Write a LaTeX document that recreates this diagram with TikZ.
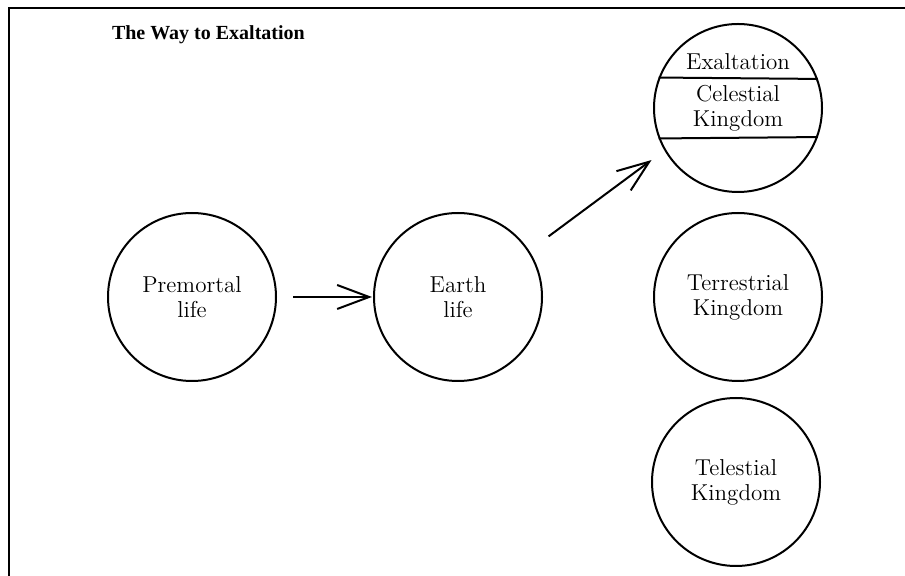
\documentclass[tikz,border=0pt]{standalone}
\usepackage{fontspec}
\newfontfamily\titlefont{Liberation Serif}
\usetikzlibrary{arrows.meta}

\begin{document}
\begin{tikzpicture}[x=0.5pt, y=-0.5pt, line width=1pt]
  \tikzset{
    stage_node/.style={circle, draw, line width=1pt, minimum size=84pt, inner sep=0pt,
      align=center, font=\fontsize{11.5}{12.5}\selectfont},
    way_arrow/.style={-{Straight Barb[length=16pt, width=12pt, line width=1pt]}, line width=1pt}
  }

  % Marco (solo arriba y a la izquierda)
  \useasboundingbox (0,0) rectangle (905,576);
  \draw (905,8) -- (9,8) -- (9,576);

  % Titulo
  \node[anchor=base west, inner sep=0pt, font=\titlefont\fontsize{10}{12}\selectfont\bfseries] (title) at (111,40) {The Way to Exaltation};

  % Etapas
  \node[stage_node] (premortal) at (192,297) {Premortal\\life};
  \node[stage_node] (earth) at (458,297) {Earth\\life};

  % Reinos
  \node[stage_node] (celestial) at (738,108) {Celestial\\Kingdom};
  \node[stage_node] (terrestrial) at (738,297) {Terrestrial\\Kingdom};
  \node[stage_node] (telestial) at (736,482) {Telestial\\Kingdom};

  % Franja de la exaltacion
  \draw (celestial.159.1) -- (celestial.20.9);
  \draw (celestial.-159.1) -- (celestial.-20.9);
  \node[font=\fontsize{11.5}{12.5}\selectfont, inner sep=0pt] (exaltation) at (738,62) {Exaltation};

  % Flechas
  \draw[way_arrow, shorten <=8pt, shorten >=0.5pt] (premortal.east) -- (earth.west);
  \draw[way_arrow, shorten <=12pt, shorten >=8pt] (earth.33.7) -- (celestial.210);
\end{tikzpicture}
\end{document}
